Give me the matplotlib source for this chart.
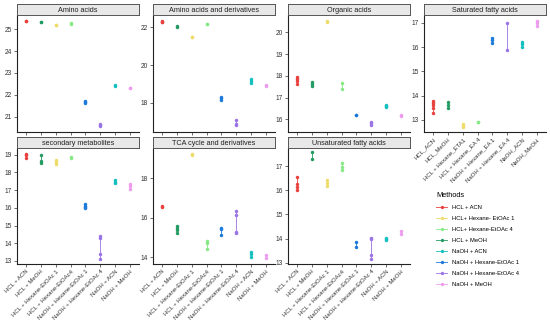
import matplotlib
matplotlib.use("Agg")
import matplotlib.pyplot as plt
from matplotlib.lines import Line2D

plt.rcParams['font.family'] = ['Liberation Sans', 'DejaVu Sans']

methods = ["HCL + ACN", "HCL + MeOH", "HCL + Hexane-EtOAc 1", "HCL + Hexane-EtOAc4",
           "NaOH + Hexane-EtOAc 1", "NaOH + Hexane-EtOAc 4", "NaOH + ACN", "NaOH + MeOH"]
sat_labels = ["HCL_ACN", "HCL_MeOH", "HCL + Hexane_ETA1", "HCL + Hexane_EA 4",
              "NaOH + Hexane_EA 1", "NaOH + Hexane_EA 4", "NaOH_ACN", "NaOH_MeOH"]
colors = ["#E8413E", "#239B62", "#EEDC6A", "#86E986",
          "#1C7AD8", "#9A73E6", "#14C0BF", "#EE9BEE"]

legend_labels = ["HCL + ACN", "HCL+ Hexane- EtOAc 1", "HCL+ Hexane-EtOAc 4", "HCL + MeOH",
                 "NaOH + ACN", "NaOH + Hexane-EtOAc 1", "NaOH + Hexane-EtOAc 4", "NaOH + MeOH"]
legend_colors = ["#E8413E", "#EEDC6A", "#86E986", "#239B62",
                 "#14C0BF", "#1C7AD8", "#9A73E6", "#EE9BEE"]

# replicate values per method (x order above)
amino_acids = [[25.38, 25.37], [25.32, 25.31], [25.21, 25.2], [25.27, 25.26],
               [21.7, 21.66, 21.62], [20.65, 20.6, 20.56], [22.45, 22.42], [22.32, 22.29]]
amino_deriv = [[22.33, 22.29, 22.26], [22.05, 22.02], [21.5, 21.47], [22.18, 22.15],
               [18.33, 18.25, 18.16], [17.1, 16.9, 16.83], [19.24, 19.15, 19.08], [18.97, 18.92]]
organic_acids = [[17.93, 17.85, 17.76, 17.62], [17.7, 17.62, 17.54], [20.52, 20.47], [17.67, 17.4],
                 [16.22, 16.18], [15.9, 15.82, 15.72], [16.66, 16.6, 16.55], [16.2, 16.15]]
saturated_fa = [[13.78, 13.7, 13.6, 13.5, 13.3], [13.72, 13.62, 13.5], [12.83, 12.75, 12.69], [12.92, 12.9],
                [16.36, 16.28, 16.18], [17.02, 15.89], [16.22, 16.12, 16.02], [17.1, 16.98, 16.86]]
secondary_met = [[19.05, 18.95, 18.82], [19.0, 18.62, 18.55], [18.68, 18.58, 18.46], [18.88, 18.8],
                 [16.22, 16.12, 16.04, 15.96], [14.4, 14.3, 13.4, 13.13], [17.55, 17.48, 17.42], [17.35, 17.2, 17.06]]
tca_cycle = [[16.6, 16.53], [15.6, 15.5, 15.4, 15.25], [19.2, 19.18], [14.82, 14.7, 14.42],
             [15.5, 15.42, 15.15], [16.32, 16.12, 15.3, 15.25], [14.28, 14.18, 14.02], [14.1, 13.96]]
unsaturated_fa = [[16.55, 16.27, 16.15, 16.0], [17.6, 17.29], [16.42, 16.3, 16.16], [17.12, 16.96, 16.82],
                  [13.88, 13.65], [14.02, 13.98, 13.32, 13.15], [14.02, 13.97, 13.93], [14.3, 14.2]]

panels = [
    ("Amino acids", amino_acids, (20.3, 25.65), [21, 22, 23, 24, 25]),
    ("Amino acids and derivatives", amino_deriv, (16.47, 22.64), [18, 20, 22]),
    ("Organic acids", organic_acids, (15.42, 20.8), [16, 17, 18, 19, 20]),
    ("Saturated fatty acids", saturated_fa, (12.5, 17.33), [13, 14, 15, 16, 17]),
    ("secondary metabolites", secondary_met, (12.83, 19.37), [13, 14, 15, 16, 17, 18, 19]),
    ("TCA cycle and derivatives", tca_cycle, (13.66, 19.52), [14, 16, 18]),
    ("Unsaturated fatty acids", unsaturated_fa, (12.95, 17.75), [13, 14, 15, 16, 17]),
]

W, H = 550, 320
fig = plt.figure(figsize=(5.5, 3.2), dpi=100)

col_x = [17, 153, 288, 424]
pw = 122
rows = [(15, 132), (148, 264)]
strip_h = 11

for i, (title, data, ylim, yticks) in enumerate(panels):
    r, c = divmod(i, 4)
    top, bot = rows[r]
    x0 = col_x[c]
    ax = fig.add_axes([x0 / W, 1 - bot / H, pw / W, (bot - top) / H])
    for j, vals in enumerate(data):
        ax.vlines(j, min(vals), max(vals), color=colors[j], lw=0.6)
        ax.plot([j] * len(vals), vals, 'o', color=colors[j], ms=2.5, mec='none')
    ax.set_xlim(-0.6, 7.6)
    ax.set_ylim(*ylim)
    ax.set_yticks(yticks)
    ax.set_xticks(range(8))
    for s in ['top', 'right']:
        ax.spines[s].set_visible(False)
    for s in ['left', 'bottom']:
        ax.spines[s].set_linewidth(0.8)
        ax.spines[s].set_color('#222222')
    ax.tick_params(labelsize=4.8, length=2, width=0.5, colors='#333333', pad=1.5)
    if r == 1 or i == 3:
        labs = sat_labels if i == 3 else methods
        ax.set_xticklabels(labs, rotation=45, ha='right', rotation_mode='anchor', fontsize=4.3)
    else:
        ax.set_xticklabels([])
    # strip on top of each panel
    sax = fig.add_axes([x0 / W, 1 - top / H, pw / W, strip_h / H])
    sax.set_xticks([])
    sax.set_yticks([])
    sax.set_facecolor('#E8E8E8')
    for s in sax.spines.values():
        s.set_color('#555555')
        s.set_linewidth(0.7)
    sax.text(0.5, 0.45, title, ha='center', va='center', fontsize=5.2, color='#222222',
             transform=sax.transAxes)

handles = [Line2D([0], [0], color=col, lw=0.6, marker='o', ms=2.4, mec='none')
           for col in legend_colors]
leg = fig.legend(handles, legend_labels, title="Methods", loc='upper left',
                 bbox_to_anchor=(431 / W, 1 - 187 / H), frameon=False, fontsize=4.2,
                 title_fontsize=5.3, handlelength=1.8, labelspacing=1.0, handletextpad=0.9)
leg._legend_box.align = "left"

fig.savefig("out.png", dpi=100)
